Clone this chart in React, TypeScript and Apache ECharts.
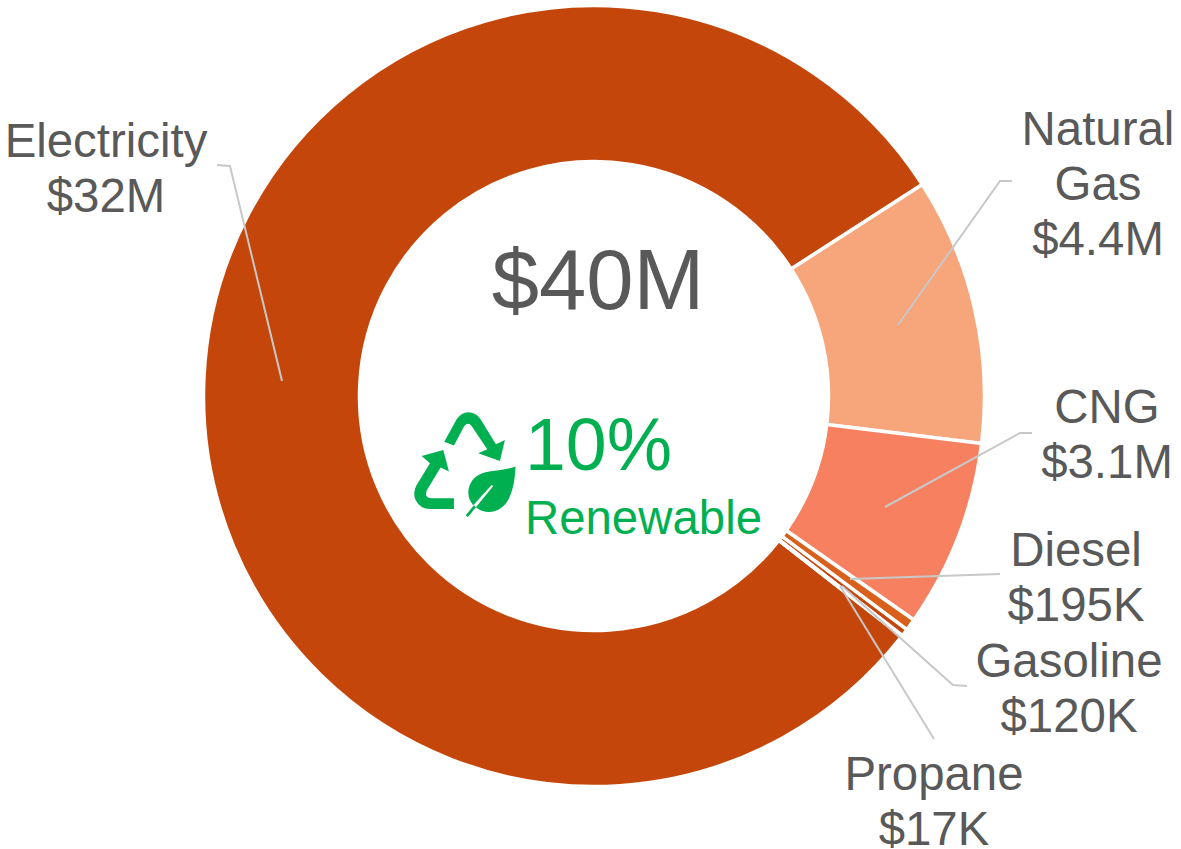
import React, { useEffect, useRef } from "react";
import * as echarts from "echarts";

const categories = ["Electricity", "Natural Gas", "CNG", "Diesel", "Gasoline", "Propane"];
const values = [32000000, 4400000, 3100000, 195000, 120000, 17000];
const labelTexts = ["Electricity\n$32M", "Natural\nGas\n$4.4M", "CNG\n$3.1M", "Diesel\n$195K", "Gasoline\n$120K", "Propane\n$17K"];
const colors = ["#c5460a", "#f7a57b", "#f6805f", "#d9601a", "#c5460a", "#c5460a"];
const labelCenters = [[106, 168], [1098, 183], [1107, 434], [1076, 577], [1069, 688], [934, 801]];
const linePoints = [
  [[217, 165], [230, 166], [282, 381]],
  [[1012, 181], [1000, 181], [898, 325]],
  [[1032, 433], [1020, 433], [885, 507]],
  [[1000, 574], [850, 579]],
  [[967, 686], [953, 685], [842, 586]],
  [[934, 739], [840, 586]],
];

const arrowTop = "M133,125 L170,58 Q185,37 205,37 Q228,37 242,58 L288,133 L315,120 L300,183 L235,160 L262,148 L215,78 Q205,65 193,78 L162,137 Z";
const arrowLeft = "M162,295 L162,327 L90,327 Q60,327 47,300 Q37,280 50,255 L90,190 L65,168 L130,150 L147,215 L122,203 L80,272 Q72,295 95,295 Z";
const leaf = "M347,200 C300,218 240,205 215,245 C198,272 205,300 220,316 L275,255 L280,258 L228,322 C255,345 300,340 322,305 C340,275 345,240 347,200 Z";
const stem = "M197,347 L222,316 L228,322 L204,351 Z";

echarts.graphic.registerShape("arrowTop", echarts.graphic.extendPath(arrowTop, {}) as any);
echarts.graphic.registerShape("arrowLeft", echarts.graphic.extendPath(arrowLeft, {}) as any);
echarts.graphic.registerShape("leafBody", echarts.graphic.extendPath(leaf, {}) as any);
echarts.graphic.registerShape("leafStem", echarts.graphic.extendPath(stem, {}) as any);

const FONT = "'Liberation Sans', Arial, sans-serif";
const GREEN = "#00b050";

export default function App() {
  const ref = useRef<HTMLDivElement>(null);
  useEffect(() => {
    document.body.style.margin = "0";
    const chart = echarts.init(ref.current!, undefined, { renderer: "svg" });
    const icon = (type: string) => ({
      type, x: 400, y: 400, scaleX: 1 / 3, scaleY: 1 / 3, style: { fill: GREEN }, silent: true,
    });
    chart.setOption({
      animation: false,
      backgroundColor: "#ffffff",
      graphic: [
        { type: "text", x: 598, y: 279, style: { text: "$40M", font: `85px ${FONT}`, fill: "#595959", textAlign: "center", textVerticalAlign: "middle" } },
        { type: "text", x: 598.5, y: 444, style: { text: "10%", font: `73.5px ${FONT}`, fill: GREEN, textAlign: "center", textVerticalAlign: "middle" } },
        { type: "text", x: 643.5, y: 517, style: { text: "Renewable", font: `47.4px ${FONT}`, fill: GREEN, textAlign: "center", textVerticalAlign: "middle" } },
        icon("arrowTop"), icon("arrowLeft"), icon("leafBody"), icon("leafStem"),
        ...linePoints.map((points) => ({
          type: "polyline", z: 10, silent: true,
          shape: { points },
          style: { stroke: "#c8c8c8", lineWidth: 2, fill: "none" },
        })),
      ],
      series: [{
        type: "pie",
        center: [594, 396],
        radius: [234.5, 390.5],
        startAngle: -38,
        clockwise: true,
        avoidLabelOverlap: false,
        itemStyle: { borderColor: "#ffffff", borderWidth: 3.5 },
        label: {
          show: true, position: "outside",
          formatter: (p: any) => labelTexts[p.dataIndex],
          fontFamily: FONT, fontSize: 47.4, lineHeight: 55, color: "#595959", align: "center",
        },
        labelLine: { show: false },
        labelLayout: (p: any) => ({
          x: labelCenters[p.dataIndex][0],
          y: labelCenters[p.dataIndex][1],
          align: "center",
          verticalAlign: "middle",
        }),
        data: categories.map((name, i) => ({ name, value: values[i], itemStyle: { color: colors[i] } })),
      }],
    });
    return () => chart.dispose();
  }, []);
  return <div ref={ref} style={{ width: 1181, height: 849 }} />;
}
